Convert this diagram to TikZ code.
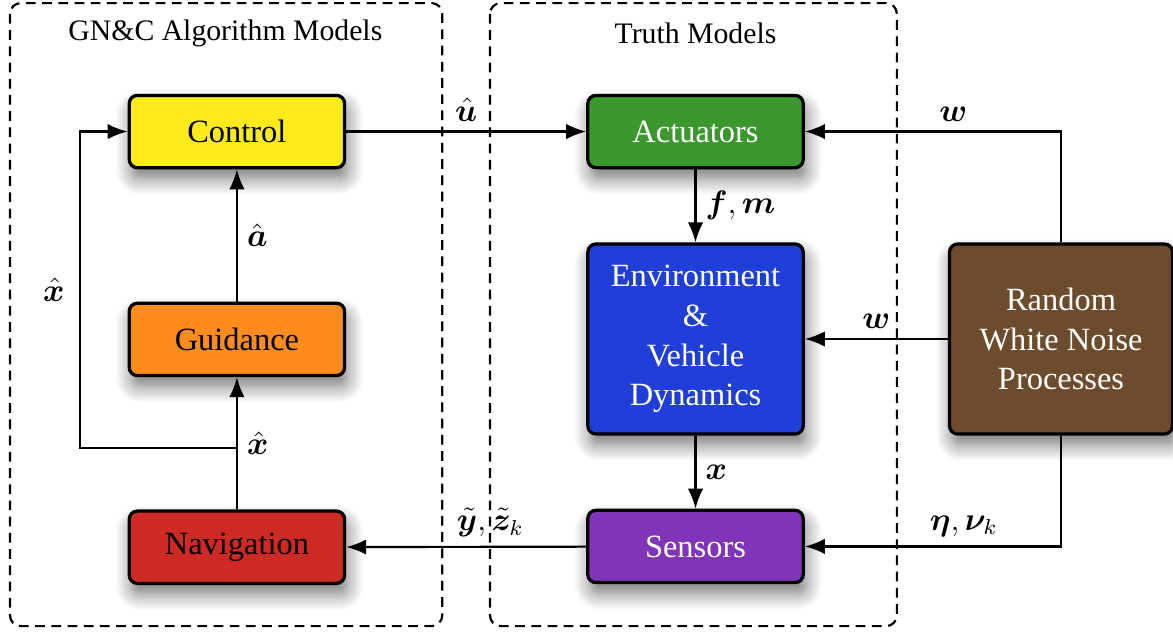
\documentclass[tikz,border=0pt]{standalone}
\usepackage{amsmath,bm}
\usepackage{fontspec}
\setmainfont{Liberation Serif}
\usepackage{tikz}
\usetikzlibrary{arrows.meta, positioning, shadows.blur}

\definecolor{ctrlyellow}{RGB}{255,234,28}
\definecolor{guidorange}{RGB}{255,140,28}
\definecolor{navred}{RGB}{204,42,34}
\definecolor{actgreen}{RGB}{58,152,44}
\definecolor{envblue}{RGB}{32,62,216}
\definecolor{senspurple}{RGB}{128,52,184}
\definecolor{noisebrown}{RGB}{108,76,44}

\begin{document}
\begin{tikzpicture}[
        font=\fontsize{12}{14.7}\selectfont,
        block/.style={rectangle, draw=black, line width=1.2pt, rounded corners=3pt, minimum width=2.8cm, minimum height=0.94cm, align=center, blur shadow={shadow xshift=1pt, shadow yshift=-4pt, shadow blur radius=6pt, shadow blur steps=10, shadow opacity=55}},
        bigblock/.style={block, minimum height=2.47cm},
        group/.style={draw=black, line width=0.8pt, dash pattern=on 3.6pt off 2.4pt, rounded corners=4pt},
        title/.style={font=\fontsize{11}{13}\selectfont},
        arrow/.style={-{Latex[length=2.6mm, width=2mm]}, line width=0.8pt},
    ]
        \useasboundingbox (0,0) rectangle (15.25,-8.22);

        % Groups
        \draw[group] (0.13,-0.04) rectangle (5.75,-8.14);
        \draw[group] (6.37,-0.04) rectangle (11.66,-8.14);
        \node[title] (algtitle) at (2.93,-0.43) {GN\&C Algorithm Models};

        % GN&C column
        \node[block, fill=ctrlyellow] (ctrl) at (3.08,-1.71) {Control};
        \node[block, fill=guidorange, below=1.72cm of ctrl] (guid) {Guidance};
        \node[block, fill=navred, below=1.72cm of guid] (nav) {Navigation};

        % Truth column
        \node[block, fill=actgreen, text=white, right=3.12cm of ctrl] (act) {Actuators};
        \node[bigblock, fill=envblue, text=white, below=0.95cm of act] (env) {Environment\\\&\\Vehicle\\Dynamics};
        \node[block, fill=senspurple, text=white, below=0.95cm of env] (sens) {Sensors};
        \node[title] (truthtitle) at (act |- algtitle) {Truth Models};

        % Noise
        \node[bigblock, fill=noisebrown, text=white, minimum width=2.9cm, right=1.86cm of env] (noise) {Random\\White Noise\\Processes};

        % Arrows
        \draw[arrow] (ctrl) -- node[above] {$\hat{\bm{u}}$} (act);
        \draw[arrow] (act) -- node[right] {$\bm{f},\bm{m}$} (env);
        \draw[arrow] (env) -- node[right] {$\bm{x}$} (sens);
        \draw[arrow] (noise.north) |- node[pos=0.71, above] {$\bm{w}$} (act.east);
        \draw[arrow] (noise) -- node[above] {$\bm{w}$} (env);
        \draw[arrow] (noise.south) |- node[pos=0.69, above] {$\bm{\eta},\bm{\nu}_k$} (sens.east);
        \draw[arrow] (sens) -- node[pos=0.4, above] {$\tilde{\bm{y}},\tilde{\bm{z}}_k$} (nav);
        \draw[arrow] (nav) -- node[right] {$\hat{\bm{x}}$} (guid);
        \draw[arrow] (guid) -- node[right] {$\hat{\bm{a}}$} (ctrl);

        % Feedback
        \coordinate[above=0.8cm of nav.north] (split);
        \draw[arrow] (split) -- ++(-2.04,0) |- node[pos=0.25, left, xshift=-2pt] {$\hat{\bm{x}}$} (ctrl.west);
    \end{tikzpicture}
\end{document}
